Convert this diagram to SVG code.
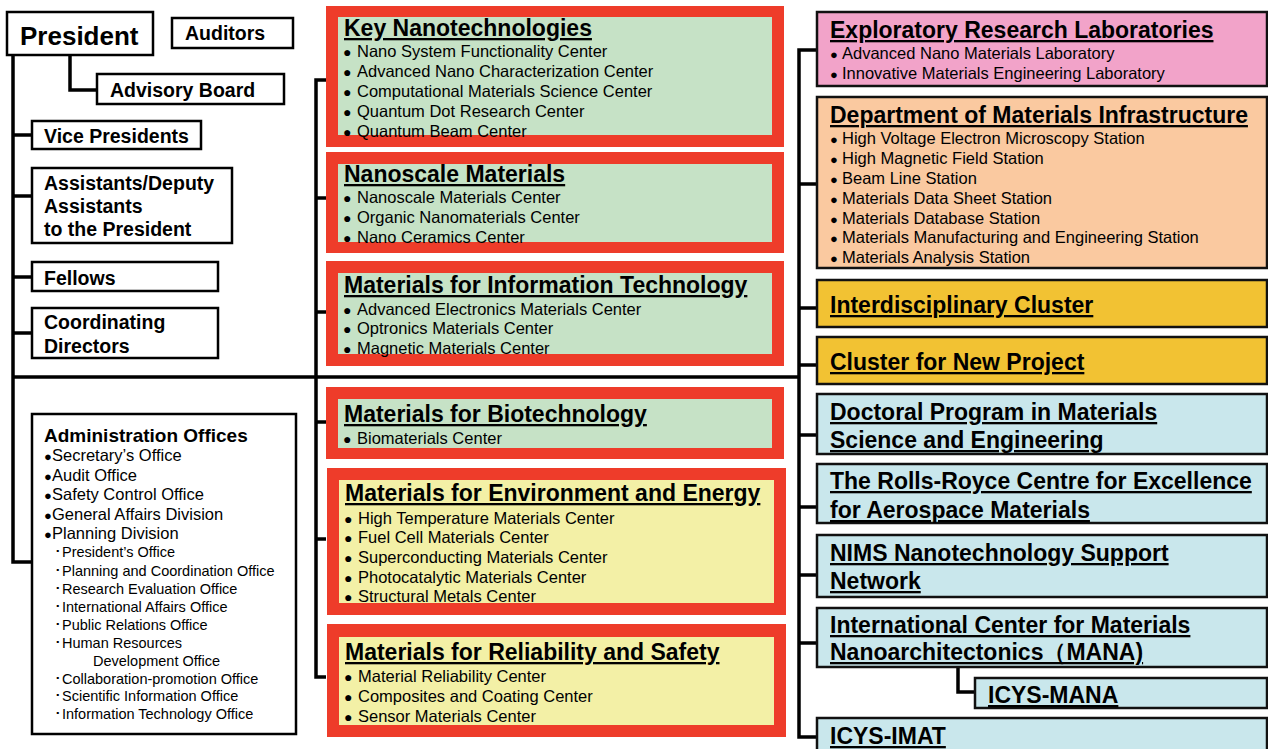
<svg xmlns="http://www.w3.org/2000/svg" width="1268" height="749" viewBox="0 0 1268 749">
<style>
text{font-family:"Liberation Sans",Arial,sans-serif;fill:#000}
.box{fill:#fff;stroke:#000;stroke-width:2.5}
.lt{font-size:19.5px;font-weight:bold}
.red{fill:#EE3C2A}
.grn{fill:#C6E2C6}
.yel{fill:#F3F0A6}
.t{font-size:23px;font-weight:bold;text-decoration:underline}
.i{font-size:16.5px}
.s{font-size:14.5px}
.b{font-size:14px}
.ab{font-size:13px}
.rb{stroke:#111;stroke-width:2.5}
.pink{fill:#F2A3C9}
.peach{fill:#FAC9A0}
.gold{fill:#F2C233}
.blue{fill:#C9E7EC}
.ln{fill:none;stroke:#000;stroke-width:3.5}
</style>
<rect width="1268" height="749" fill="#fff"/>
<g id="connectors">
<polyline class="ln" points="13,55 13,562 32,562"/>
<polyline class="ln" points="70,55 70,90 97,90"/>
<line class="ln" x1="13" y1="135" x2="32" y2="135"/>
<line class="ln" x1="13" y1="196" x2="32" y2="196"/>
<line class="ln" x1="13" y1="277" x2="32" y2="277"/>
<line class="ln" x1="13" y1="333" x2="32" y2="333"/>
<line class="ln" x1="13" y1="377" x2="800" y2="377"/>
<polyline class="ln" points="326,80 316,80 316,677 326,677"/>
<line class="ln" x1="316" y1="198" x2="326" y2="198"/>
<line class="ln" x1="316" y1="312" x2="326" y2="312"/>
<line class="ln" x1="316" y1="422" x2="326" y2="422"/>
<line class="ln" x1="316" y1="539" x2="326" y2="539"/>
<polyline class="ln" points="817,50 799,50 799,737 817,737"/>
<line class="ln" x1="799" y1="184" x2="817" y2="184"/>
<line class="ln" x1="799" y1="308" x2="817" y2="308"/>
<line class="ln" x1="799" y1="365" x2="817" y2="365"/>
<line class="ln" x1="799" y1="435" x2="817" y2="435"/>
<line class="ln" x1="799" y1="507" x2="817" y2="507"/>
<line class="ln" x1="799" y1="575" x2="817" y2="575"/>
<line class="ln" x1="799" y1="643" x2="817" y2="643"/>
<polyline class="ln" points="958,667 958,692 975,692"/>
</g>
<g id="president"><rect class="box" x="7" y="12" width="146" height="43"/><text x="20" y="45" font-size="26" font-weight="bold">President</text></g>
<g id="auditors"><rect class="box" x="172" y="18" width="121" height="30"/><text class="lt" x="185" y="40">Auditors</text></g>
<g id="advisory"><rect class="box" x="97" y="74" width="187" height="30"/><text class="lt" x="110" y="97">Advisory Board</text></g>
<g id="vice"><rect class="box" x="32" y="121" width="169" height="28"/><text class="lt" x="44" y="143">Vice Presidents</text></g>
<g id="assistants"><rect class="box" x="32" y="168" width="200" height="75"/><text class="lt"><tspan x="44" y="190">Assistants/Deputy</tspan><tspan x="44" y="213">Assistants</tspan><tspan x="44" y="236">to the President</tspan></text></g>
<g id="fellows"><rect class="box" x="32" y="262" width="186" height="29"/><text class="lt" x="44" y="285">Fellows</text></g>
<g id="coord"><rect class="box" x="32" y="308" width="186" height="50"/><text class="lt"><tspan x="44" y="329">Coordinating</tspan><tspan x="44" y="353">Directors</tspan></text></g>
<g id="admin"><rect class="box" x="32" y="414" width="264" height="320"/>
<text x="44" y="442" font-size="19" font-weight="bold">Administration Offices</text>
<text class="i"><tspan class="ab" x="44" y="461">●</tspan><tspan x="52" y="461">Secretary’s Office</tspan><tspan class="ab" x="44" y="481">●</tspan><tspan x="52" y="481">Audit Office</tspan><tspan class="ab" x="44" y="500">●</tspan><tspan x="52" y="500">Safety Control Office</tspan><tspan class="ab" x="44" y="520">●</tspan><tspan x="52" y="520">General Affairs Division</tspan><tspan class="ab" x="44" y="539">●</tspan><tspan x="52" y="539">Planning Division</tspan></text>
<text class="s"><tspan x="54" y="557">･President’s Office</tspan><tspan x="54" y="576">･Planning and Coordination Office</tspan><tspan x="54" y="594">･Research Evaluation Office</tspan><tspan x="54" y="612">･International Affairs Office</tspan><tspan x="54" y="630">･Public Relations Office</tspan><tspan x="54" y="648">･Human Resources</tspan><tspan x="93" y="666">Development Office</tspan><tspan x="54" y="684">･Collaboration-promotion Office</tspan><tspan x="54" y="701">･Scientific Information Office</tspan><tspan x="54" y="719">･Information Technology Office</tspan></text>
</g>
<g id="keynano"><rect class="red" x="326" y="6" width="458" height="141"/><rect class="grn" x="338" y="17" width="434" height="118"/>
<text class="t" x="344" y="36">Key Nanotechnologies</text>
<text class="i"><tspan class="b" x="343" y="57">●</tspan><tspan x="357" y="57">Nano System Functionality Center</tspan><tspan class="b" x="343" y="77">●</tspan><tspan x="357" y="77">Advanced Nano Characterization Center</tspan><tspan class="b" x="343" y="97">●</tspan><tspan x="357" y="97">Computational Materials Science Center</tspan><tspan class="b" x="343" y="117">●</tspan><tspan x="357" y="117">Quantum Dot Research Center</tspan><tspan class="b" x="343" y="137">●</tspan><tspan x="357" y="137">Quantum Beam Center</tspan></text></g>
<g id="nanoscale"><rect class="red" x="326" y="152" width="458" height="101"/><rect class="grn" x="338" y="164" width="434" height="78"/>
<text class="t" x="344" y="182">Nanoscale Materials</text>
<text class="i"><tspan class="b" x="343" y="203">●</tspan><tspan x="357" y="203">Nanoscale Materials Center</tspan><tspan class="b" x="343" y="223">●</tspan><tspan x="357" y="223">Organic Nanomaterials Center</tspan><tspan class="b" x="343" y="243">●</tspan><tspan x="357" y="243">Nano Ceramics Center</tspan></text></g>
<g id="infotech"><rect class="red" x="326" y="261" width="458" height="105"/><rect class="grn" x="338" y="273" width="434" height="81"/>
<text class="t" x="344" y="293">Materials for Information Technology</text>
<text class="i"><tspan class="b" x="343" y="315">●</tspan><tspan x="357" y="315">Advanced Electronics Materials Center</tspan><tspan class="b" x="343" y="334">●</tspan><tspan x="357" y="334">Optronics Materials Center</tspan><tspan class="b" x="343" y="354">●</tspan><tspan x="357" y="354">Magnetic Materials Center</tspan></text></g>
<g id="biotech"><rect class="red" x="326" y="387" width="458" height="72"/><rect class="grn" x="338" y="399" width="434" height="49"/>
<text class="t" x="344" y="422">Materials for Biotechnology</text>
<text class="i"><tspan class="b" x="343" y="444">●</tspan><tspan x="357" y="444">Biomaterials Center</tspan></text></g>
<g id="environment"><rect class="red" x="327" y="468" width="459" height="147"/><rect class="yel" x="339" y="480" width="435" height="123"/>
<text class="t" x="345" y="501">Materials for Environment and Energy</text>
<text class="i"><tspan class="b" x="344" y="524">●</tspan><tspan x="358" y="524">High Temperature Materials Center</tspan><tspan class="b" x="344" y="543">●</tspan><tspan x="358" y="543">Fuel Cell Materials Center</tspan><tspan class="b" x="344" y="563">●</tspan><tspan x="358" y="563">Superconducting Materials Center</tspan><tspan class="b" x="344" y="583">●</tspan><tspan x="358" y="583">Photocatalytic Materials Center</tspan><tspan class="b" x="344" y="602">●</tspan><tspan x="358" y="602">Structural Metals Center</tspan></text></g>
<g id="reliability"><rect class="red" x="327" y="624" width="459" height="113"/><rect class="yel" x="339" y="637" width="435" height="88"/>
<text class="t" x="345" y="660">Materials for Reliability and Safety</text>
<text class="i"><tspan class="b" x="344" y="682">●</tspan><tspan x="358" y="682">Material Reliability Center</tspan><tspan class="b" x="344" y="702">●</tspan><tspan x="358" y="702">Composites and Coating Center</tspan><tspan class="b" x="344" y="722">●</tspan><tspan x="358" y="722">Sensor Materials Center</tspan></text></g>
<g id="erl"><rect class="pink rb" x="817" y="12" width="450" height="74"/>
<text class="t" x="830" y="38">Exploratory Research Laboratories</text>
<text class="i"><tspan class="ab" x="830" y="59">●</tspan><tspan x="842" y="59">Advanced Nano Materials Laboratory</tspan><tspan class="ab" x="830" y="79">●</tspan><tspan x="842" y="79">Innovative Materials Engineering Laboratory</tspan></text></g>
<g id="dmi"><rect class="peach rb" x="817" y="97" width="450" height="171"/>
<text class="t" x="830" y="123">Department of Materials Infrastructure</text>
<text class="i"><tspan class="ab" x="830" y="144">●</tspan><tspan x="842" y="144">High Voltage Electron Microscopy Station</tspan><tspan class="ab" x="830" y="164">●</tspan><tspan x="842" y="164">High Magnetic Field Station</tspan><tspan class="ab" x="830" y="184">●</tspan><tspan x="842" y="184">Beam Line Station</tspan><tspan class="ab" x="830" y="204">●</tspan><tspan x="842" y="204">Materials Data Sheet Station</tspan><tspan class="ab" x="830" y="224">●</tspan><tspan x="842" y="224">Materials Database Station</tspan><tspan class="ab" x="830" y="243">●</tspan><tspan x="842" y="243">Materials Manufacturing and Engineering Station</tspan><tspan class="ab" x="830" y="263">●</tspan><tspan x="842" y="263">Materials Analysis Station</tspan></text></g>
<g id="interdisc"><rect class="gold rb" x="817" y="280" width="450" height="47"/><text class="t" x="830" y="313">Interdisciplinary Cluster</text></g>
<g id="newproject"><rect class="gold rb" x="817" y="337" width="450" height="47"/><text class="t" x="830" y="370">Cluster for New Project</text></g>
<g id="doctoral"><rect class="blue rb" x="817" y="394" width="450" height="60"/><text class="t"><tspan x="830" y="420">Doctoral Program in Materials</tspan><tspan x="830" y="448">Science and Engineering</tspan></text></g>
<g id="rollsroyce"><rect class="blue rb" x="817" y="464" width="450" height="59"/><text class="t"><tspan x="830" y="489">The Rolls-Royce Centre for Excellence</tspan><tspan x="830" y="518">for Aerospace Materials</tspan></text></g>
<g id="nims"><rect class="blue rb" x="817" y="535" width="450" height="62"/><text class="t"><tspan x="830" y="561">NIMS Nanotechnology Support</tspan><tspan x="830" y="589">Network</tspan></text></g>
<g id="mana"><rect class="blue rb" x="817" y="608" width="450" height="59"/><text class="t"><tspan x="830" y="633">International Center for Materials</tspan><tspan x="830" y="660">Nanoarchitectonics（MANA)</tspan></text></g>
<g id="icysmana"><rect class="blue rb" x="975" y="678" width="292" height="30"/><text class="t" x="988" y="703">ICYS-MANA</text></g>
<g id="icysimat"><rect class="blue rb" x="817" y="718" width="450" height="40"/><text class="t" x="830" y="744">ICYS-IMAT</text></g>
</svg>
